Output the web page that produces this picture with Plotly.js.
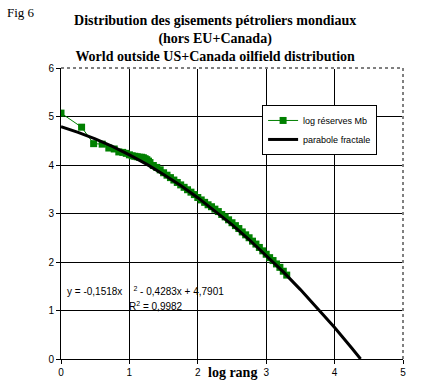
<!DOCTYPE html>
<html>
<head>
<meta charset="utf-8">
<script src="https://cdn.plot.ly/plotly-3.0.1.min.js"></script>
<style>html,body{margin:0;padding:0;background:#fff;}#chart{width:426px;height:384px;}</style>
</head>
<body>
<div id="chart"></div>
<script>
// Observed data: log10(rank) vs log10(reserves, Mb)
const logRank = [0, 0.301, 0.477, 0.602, 0.699, 0.778, 0.845, 0.903, 0.954, 1.0,
  1.041, 1.079, 1.114, 1.146, 1.176, 1.204, 1.230, 1.255, 1.279, 1.301,
  1.35, 1.40, 1.45, 1.50, 1.55, 1.60, 1.65, 1.70, 1.75, 1.80,
  1.85, 1.90, 1.95, 2.00, 2.05, 2.10, 2.15, 2.20, 2.25, 2.30,
  2.35, 2.40, 2.45, 2.50, 2.55, 2.60, 2.65, 2.70, 2.75, 2.80,
  2.85, 2.90, 2.95, 3.00, 3.05, 3.10, 3.15, 3.20, 3.25, 3.30];
const logReserves = [5.07, 4.78, 4.44, 4.43, 4.35, 4.33, 4.27, 4.26, 4.24, 4.21,
  4.19, 4.18, 4.17, 4.16, 4.16, 4.15, 4.13, 4.11, 4.08, 4.05,
  3.99, 3.95, 3.90, 3.84, 3.79, 3.74, 3.69, 3.64, 3.59, 3.54,
  3.49, 3.44, 3.39, 3.33, 3.28, 3.23, 3.18, 3.14, 3.09, 3.04,
  2.98, 2.93, 2.87, 2.81, 2.75, 2.69, 2.62, 2.56, 2.50, 2.43,
  2.37, 2.30, 2.23, 2.16, 2.09, 2.03, 1.96, 1.89, 1.81, 1.73];
// Fitted "parabole fractale" trendline as drawn
const fitX = [0, 0.25, 0.5, 0.75, 1.0, 1.25, 1.5, 1.75, 2.0, 2.25, 2.5, 2.75, 3.0, 3.25, 3.5, 3.75, 4.0, 4.25, 4.38];
const fitY = [4.790, 4.674, 4.538, 4.384, 4.210, 4.018, 3.806, 3.576, 3.326, 3.058, 2.771, 2.464, 2.139, 1.795, 1.431, 1.049, 0.648, 0.228, 0.0];
const seriesNames = ["log réserves Mb", "parabole fractale"];
const titleLines = ["Distribution des gisements pétroliers mondiaux", "(hors EU+Canada)", "World outside US+Canada oilfield distribution"];
const xTicks = [0, 1, 2, 3, 4, 5];
const yTicks = [0, 1, 2, 3, 4, 5, 6];

const traces = [
  {x: logRank, y: logReserves, name: seriesNames[0], type: 'scatter', mode: 'lines+markers',
   line: {color: '#008000', width: 1}, marker: {symbol: 'square', size: 7, color: '#008000'}},
  {x: fitX, y: fitY, name: seriesNames[1], type: 'scatter', mode: 'lines',
   line: {color: '#000000', width: 3}}
];

const sans = 'Liberation Sans, Arial, sans-serif';
const serif = 'Liberation Serif, Times New Roman, serif';

const layout = {
  width: 426, height: 384,
  margin: {l: 61, r: 23, t: 68, b: 25},
  paper_bgcolor: '#fff', plot_bgcolor: '#fff',
  font: {family: sans, size: 10, color: '#000'},
  title: {text: titleLines.join('<br>'), font: {family: serif, size: 14, color: '#000', weight: 'bold'},
          x: 0.505, xanchor: 'center', y: 0.935, yanchor: 'top'},
  showlegend: true,
  legend: {x: 0.588, y: 0.873, xanchor: 'left', yanchor: 'top', bgcolor: '#fff', bordercolor: '#000', borderwidth: 1,
           font: {family: sans, size: 9, color: '#000'}, tracegroupgap: 0, itemwidth: 30},
  xaxis: {range: [0, 5], tickvals: xTicks, ticktext: xTicks.map(String), showgrid: true, gridcolor: '#000', gridwidth: 1,
          zeroline: false, showline: true, linecolor: '#000', linewidth: 1, ticks: 'outside', ticklen: 4, tickcolor: '#000',
          tickfont: {family: sans, size: 10}, fixedrange: true},
  yaxis: {range: [0, 6], tickvals: yTicks, ticktext: yTicks.map(String), showgrid: true, gridcolor: '#000', gridwidth: 1,
          zeroline: false, showline: true, linecolor: '#000', linewidth: 1, ticks: 'outside', ticklen: 4, tickcolor: '#000',
          tickfont: {family: sans, size: 10}, fixedrange: true},
  shapes: [
    {type: 'line', xref: 'paper', yref: 'paper', x0: 0, x1: 1, y0: 1, y1: 1, line: {color: '#fff', width: 2}, layer: 'above'},
    {type: 'line', xref: 'paper', yref: 'paper', x0: 1, x1: 1, y0: 0, y1: 1, line: {color: '#fff', width: 2}, layer: 'above'},
    {type: 'line', xref: 'paper', yref: 'paper', x0: 0, x1: 1, y0: 1, y1: 1, line: {color: '#000', width: 1, dash: 'dot'}, layer: 'above'},
    {type: 'line', xref: 'paper', yref: 'paper', x0: 1, x1: 1, y0: 0, y1: 1, line: {color: '#000', width: 1, dash: 'dot'}, layer: 'above'}
  ],
  annotations: [
    {text: 'Fig 6', xref: 'paper', yref: 'paper', x: -0.164, y: 1.19, xanchor: 'left', yanchor: 'middle', showarrow: false,
     font: {family: serif, size: 13, color: '#000'}},
    {text: 'log rang', xref: 'paper', yref: 'paper', x: 0.5, y: -0.045, xanchor: 'center', yanchor: 'middle', showarrow: false,
     font: {family: serif, size: 14, color: '#000', weight: 'bold'}},
    {text: 'y = -0,1518x    <sup>2</sup> - 0,4283x + 4,7901', xref: 'paper', yref: 'paper', x: 0.011, y: 0.234, xanchor: 'left', yanchor: 'middle',
     showarrow: false, font: {family: sans, size: 10, color: '#000'}},
    {text: 'R<sup>2</sup> = 0,9982', xref: 'paper', yref: 'paper', x: 0.193, y: 0.182, xanchor: 'left', yanchor: 'middle',
     showarrow: false, font: {family: sans, size: 10, color: '#000'}}
  ]
};

Plotly.newPlot('chart', traces, layout, {displayModeBar: false, staticPlot: true});
</script>
</body>
</html>
